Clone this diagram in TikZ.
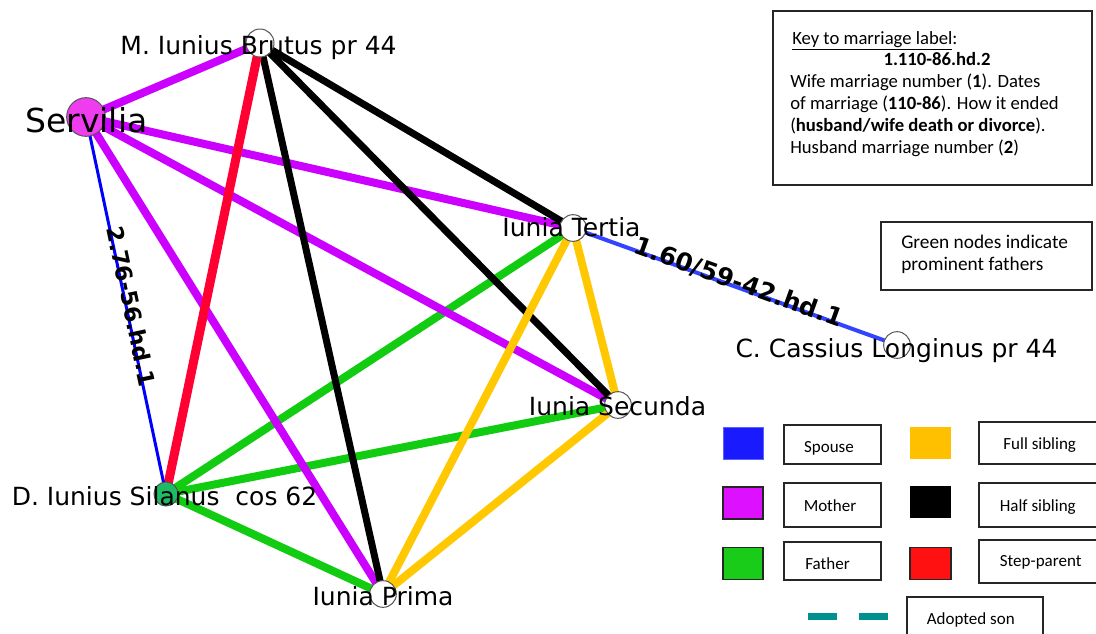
\documentclass[tikz,border=0pt]{standalone}
\usepackage{fontspec}
\setmainfont{Carlito}
\newfontfamily\graphfont{DejaVu Sans}

\definecolor{momc}{HTML}{CC00FF}
\definecolor{dadc}{HTML}{11CC11}
\definecolor{fullc}{HTML}{FFC800}
\definecolor{stepc}{HTML}{FF0033}
\definecolor{spousec}{HTML}{0000FF}
\definecolor{spouseb}{HTML}{3344FF}
\definecolor{servfill}{HTML}{EE3CEE}
\definecolor{silfill}{HTML}{1DBB66}
\definecolor{adoptc}{HTML}{009090}
\definecolor{keyblue}{HTML}{1A1AFF}
\definecolor{keymom}{HTML}{DD11FF}
\definecolor{keydad}{HTML}{1ACC1A}
\definecolor{keyfull}{HTML}{FFC000}
\definecolor{keystep}{HTML}{FF1111}
\definecolor{rim}{HTML}{555555}

\pgfdeclarelayer{edges}
\pgfsetlayers{edges,main}

\tikzset{
  x=0.75pt, y=-0.75pt,
  vtx/.style={circle, draw=rim, line width=0.75pt, fill=white, inner sep=0pt, minimum size=20pt},
  personlbl/.style={font=\graphfont\fontsize{18.75}{22}\selectfont, inner sep=0pt, anchor=base},
  elbl/.style={font=\graphfont\bfseries\fontsize{18}{20}\selectfont, inner sep=0pt, anchor=mid, sloped},
  rel/.style={line width=6pt, line cap=butt},
  mother/.style={rel, draw=momc},
  father/.style={rel, draw=dadc},
  fullsib/.style={rel, draw=fullc},
  halfsib/.style={rel, draw=black, line width=5.25pt},
  stepp/.style={rel, draw=stepc, line width=6.75pt},
  keytxt/.style={font=\fontsize{14}{16.3}\selectfont, inner sep=0pt, anchor=base west},
  legtxt/.style={font=\fontsize{12.75}{15}\selectfont, inner sep=0pt, anchor=base},
  boxframe/.style={draw=black!85, line width=0.8pt, inner sep=0pt},
  swatch/.style={inner sep=0pt, minimum width=30pt, minimum height=24pt},
}

\begin{document}
\begin{tikzpicture}
\useasboundingbox (0,0) rectangle (1096,633);
\clip (0,0) rectangle (1096,633);

% people
\node[vtx, minimum size=21pt] (brutus) at (260,43) {};
\node[vtx, fill=servfill, minimum size=29pt] (servilia) at (86,117) {};
\node[vtx] (tertia) at (573,228) {};
\node[vtx] (cassius) at (897,345) {};
\node[vtx] (secunda) at (618,405) {};
\node[vtx, fill=silfill, minimum size=18pt] (silanus) at (166,494) {};
\node[vtx] (prima) at (383,594) {};

% relations, drawn beneath the people
\begin{pgfonlayer}{edges}
  \fill[white] (0,0) rectangle (1096,633);
  \draw[father] (tertia.center) -- (silanus.center);
  \draw[father] (secunda.center) -- (silanus.center);
  \draw[father] (silanus.center) -- (prima.center);
  \draw[mother] (servilia.center) -- (brutus.center);
  \draw[mother] (servilia.center) -- (tertia.center);
  \draw[mother] (servilia.center) -- (secunda.center);
  \draw[mother] (servilia.center) -- (prima.center);
  \draw[halfsib] (brutus.center) -- (tertia.center);
  \draw[halfsib] (brutus.center) -- (secunda.center);
  \draw[halfsib] (brutus.center) -- (prima.center);
  \draw[fullsib] (tertia.center) -- (secunda.center);
  \draw[fullsib] (tertia.center) -- (prima.center);
  \draw[fullsib] (secunda.center) -- (prima.center);
  \draw[stepp] (brutus.center) -- (silanus.center);
  \draw[spousec, line width=2.25pt] (servilia.center) -- (silanus.center);
  \draw[spouseb, line width=3pt] (tertia.center) -- (cassius.center);
\end{pgfonlayer}

% marriage labels
\path (servilia.center) -- node[elbl, font=\graphfont\bfseries\fontsize{17}{20}\selectfont, pos=0.505] (m1) {2.76-56.hd.1} (silanus.center);
\path (tertia.center) -- node[elbl, font=\graphfont\bfseries\fontsize{18.5}{20}\selectfont, pos=0.506] (m2) {1.60/59-42.hd.1} (cassius.center);

% names
\node[personlbl] (brutusL) at (258.5,54) {M. Iunius Brutus pr 44};
\node[personlbl, font=\graphfont\fontsize{24.75}{28}\selectfont] (serviliaL) at (86.5,132) {Servilia};
\node[personlbl] (tertiaL) at (571.5,236) {Iunia Tertia};
\node[personlbl] (cassiusL) at (896.5,357) {C. Cassius Longinus pr 44};
\node[personlbl] (secundaL) at (617.5,415) {Iunia Secunda};
\node[personlbl] (silanusL) at (164.5,505) {D. Iunius Silanus\ \ cos 62};
\node[personlbl] (primaL) at (383,605) {Iunia Prima};

% key to the marriage labels
\node[boxframe, minimum width=239.25pt, minimum height=130.5pt] (keybox) at (932.5,98) {};
\node[keytxt] (k1) at (792,44) {\underline{Key to marriage label}:};
\node[keytxt, anchor=base] (k2) at (937,65) {\textbf{1.110-86.hd.2}};
\node[keytxt] (k3) at (790,87) {Wife marriage number (\textbf{1}). Dates};
\node[keytxt] (k4) at (790,109) {of marriage (\textbf{110-86}). How it ended};
\node[keytxt] (k5) at (790,131) {(\textbf{husband/wife death or divorce}).};
\node[keytxt] (k6) at (790,153) {Husband marriage number (\textbf{2})};

% green node note
\node[boxframe, minimum width=158.25pt, minimum height=51pt] (notebox) at (986.5,256) {};
\node[keytxt, font=\fontsize{14.5}{17}\selectfont] (n1) at (901,248) {Green nodes indicate};
\node[keytxt, font=\fontsize{14.5}{17}\selectfont] (n2) at (901,270) {prominent fathers};

% colour legend
\node[swatch, fill=keyblue, draw=keyblue!70] (sw1) at (743,443) {};
\node[swatch, fill=keymom, draw=black!85, line width=0.8pt] (sw2) at (743,503) {};
\node[swatch, fill=keydad, draw=black!85, line width=0.8pt] (sw3) at (743,563.5) {};
\node[swatch, fill=keyfull, minimum width=30.75pt] (sw4) at (930.5,443) {};
\node[swatch, fill=black, minimum width=30.75pt] (sw5) at (930.5,501.5) {};
\node[swatch, fill=keystep, draw=black!85, line width=0.8pt, minimum width=30.75pt] (sw6) at (930.5,563.5) {};

\node[boxframe, minimum width=72.75pt, minimum height=29.25pt] (b1) at (832.5,444.5) {};
\node[boxframe, minimum width=72.75pt, minimum height=33pt] (b2) at (832.5,505) {};
\node[boxframe, minimum width=72.75pt, minimum height=28.5pt] (b3) at (832.5,561) {};
\node[boxframe, minimum width=98.25pt, minimum height=31.5pt] (b4) at (1044.5,443) {};
\node[boxframe, minimum width=98.25pt, minimum height=33pt] (b5) at (1044.5,505) {};
\node[boxframe, minimum width=98.25pt, minimum height=32.25pt] (b6) at (1044.5,561.5) {};
\node[boxframe, minimum width=102pt, minimum height=36pt] (b7) at (975,621) {};

\node[legtxt] (t1) at (829,452.7) {Spouse};
\node[legtxt] (t2) at (830,511.7) {Mother};
\node[legtxt] (t3) at (827.5,569) {Father};
\node[legtxt] (t4) at (1039.7,449) {Full sibling};
\node[legtxt] (t5) at (1037.8,511.7) {Half sibling};
\node[legtxt] (t6) at (1040.7,566.7) {Step-parent};
\node[legtxt] (t7) at (970.8,624) {Adopted son};

\coordinate (ad1) at (808,616.5);
\coordinate (ad2) at (889,616.5);
\draw[adoptc, line width=5.25pt, dash pattern=on 21.75pt off 16.5pt] (ad1) -- (ad2);
\end{tikzpicture}
\end{document}
